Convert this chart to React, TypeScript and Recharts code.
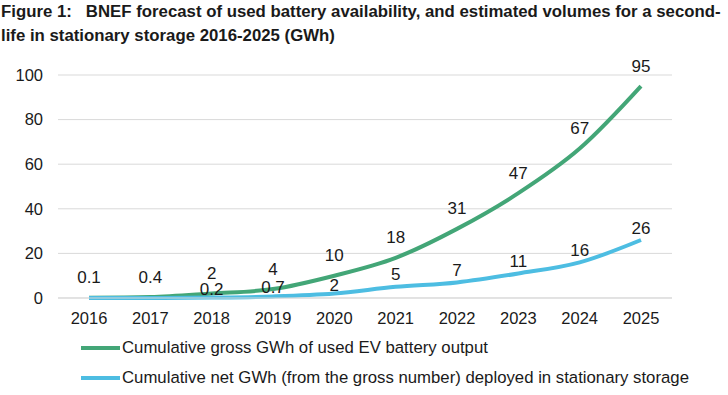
import { LineChart, Line, XAxis, YAxis, CartesianGrid, LabelList } from 'recharts'

const years = ['2016', '2017', '2018', '2019', '2020', '2021', '2022', '2023', '2024', '2025']
const grossGWh = [0.1, 0.4, 2, 4, 10, 18, 31, 47, 67, 95]
const netGWh = [0, 0, 0.2, 0.7, 2, 5, 7, 11, 16, 26]
const netLabels = ['', '', '0.2', '0.7', '2', '5', '7', '11', '16', '26']
const yTicks = [0, 20, 40, 60, 80, 100]

const GREEN = '#43a677'
const BLUE = '#4dbde2'
const FONT = '"Liberation Sans", Arial, sans-serif'

const chartData = years.map((year, i) => ({
  year,
  gross: grossGWh[i],
  net: netGWh[i],
  netLabel: netLabels[i],
}))

// labels sit above the line; small net values hug the line a bit closer, like the original
function makeLabel(lift: number, smallLift: number) {
  return (props: any) => {
    const { x, y, value } = props
    if (value === '' || value == null) return null
    const dy = Number(value) < 3 ? smallLift : lift
    return (
      <text x={x} y={y - dy} textAnchor="middle" dominantBaseline="central" fontSize={17} fill="#1a1a1a" fontFamily={FONT}>
        {value}
      </text>
    )
  }
}

function LegendRow({ color, text }: { color: string; text: string }) {
  return (
    <div style={{ display: 'flex', alignItems: 'center', height: 30 }}>
      <span style={{ width: 39, height: 4, background: color, display: 'inline-block', marginRight: 2 }} />
      <span>{text}</span>
    </div>
  )
}

export default function App() {
  return (
    <div style={{ position: 'absolute', left: 0, top: 0, width: 728, height: 395, background: '#fff', fontFamily: FONT, overflow: 'hidden' }}>
      <div style={{ position: 'absolute', left: 1, top: 0, width: 727, fontSize: 16.8, fontWeight: 700, lineHeight: '24px', color: '#1a1a1a', whiteSpace: 'nowrap' }}>
        Figure 1:&nbsp;&nbsp; BNEF forecast of used battery availability, and estimated volumes for a second-
        <br />
        life in stationary storage 2016-2025 (GWh)
      </div>
      <div style={{ position: 'absolute', left: 0, top: 50 }}>
        <LineChart width={728} height={280} data={chartData} margin={{ top: 25, right: 56, left: 8, bottom: 2 }}>
          <CartesianGrid vertical={false} stroke="#d9d9d9" />
          <XAxis
            dataKey="year"
            padding={{ left: 31, right: 31 }}
            tickLine={false}
            axisLine={{ stroke: '#d9d9d9' }}
            tickMargin={8}
            height={30}
            tick={{ fill: '#1a1a1a', fontSize: 16.5, fontFamily: FONT }}
          />
          <YAxis
            domain={[0, 100]}
            ticks={yTicks}
            width={50}
            tickLine={false}
            axisLine={false}
            tickMargin={9}
            tick={{ fill: '#1a1a1a', fontSize: 16.5, fontFamily: FONT }}
          />
          <Line type="monotone" dataKey="gross" stroke={GREEN} strokeWidth={4} dot={false} isAnimationActive={false}>
            <LabelList dataKey="gross" content={makeLabel(20, 20)} />
          </Line>
          <Line type="monotone" dataKey="net" stroke={BLUE} strokeWidth={4} dot={false} isAnimationActive={false}>
            <LabelList dataKey="netLabel" content={makeLabel(12, 8.5)} />
          </Line>
        </LineChart>
      </div>
      <div style={{ position: 'absolute', left: 81, top: 333, fontSize: 16.75, color: '#1a1a1a' }}>
        <LegendRow color={GREEN} text="Cumulative gross GWh of used EV battery output" />
        <LegendRow color={BLUE} text="Cumulative net GWh (from the gross number) deployed in stationary storage" />
      </div>
    </div>
  )
}
